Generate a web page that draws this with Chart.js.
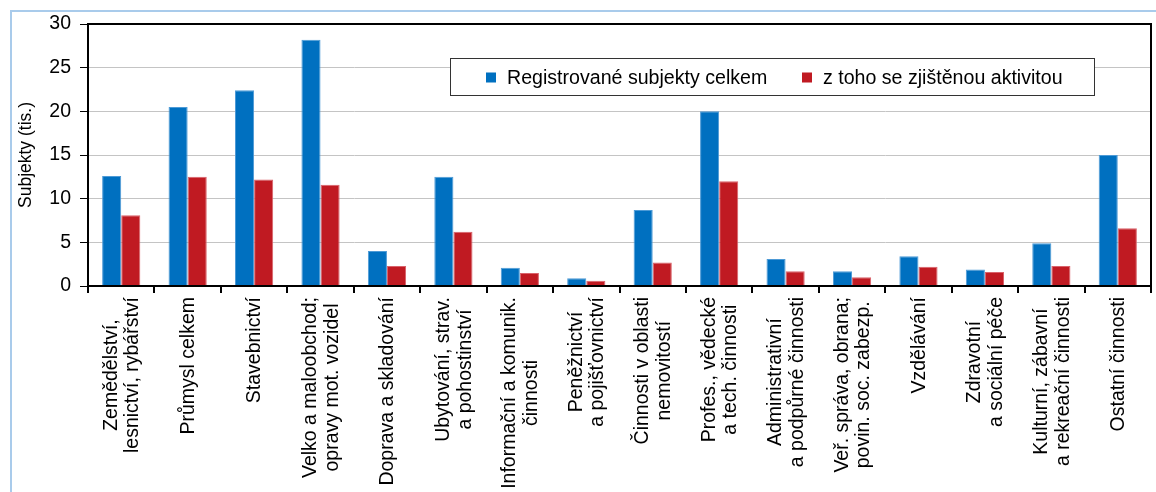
<!DOCTYPE html>
<html lang="cs">
<head>
<meta charset="utf-8">
<title>Registrované subjekty podle odvětví</title>
<script src="https://cdn.jsdelivr.net/npm/chart.js@4/dist/chart.umd.min.js"></script>
<style>
  html, body { margin: 0; padding: 0; background: #fff; }
  #wrap { position: relative; width: 1156px; height: 492px; overflow: hidden; }
  #frame { position: absolute; left: 10px; top: 10px; width: 1200px; height: 600px;
           border-left: 2px solid #a9cbeb; border-top: 2px solid #a9cbeb; pointer-events: none; }
  canvas { position: absolute; left: 0; top: 0; }
</style>
</head>
<body>
<div id="wrap">
  <canvas id="chart" width="1156" height="492"></canvas>
  <div id="frame"></div>
</div>
<script>
// Odvětví (kategorie na ose x), víceřádkové popisky
const categories = [
  ["Zemědělství,", "lesnictví, rybářství"],
  ["Průmysl celkem"],
  ["Stavebnictví"],
  ["Velko a maloobchod;", "opravy mot. vozidel"],
  ["Doprava a skladování"],
  ["Ubytování, strav.", "a pohostinství"],
  ["Informační a komunik.", "činnosti"],
  ["Peněžnictví", "a pojišťovnictví"],
  ["Činnosti v oblasti", "nemovitostí"],
  ["Profes., vědecké", "a tech. činnosti"],
  ["Administrativní", "a podpůrné činnosti"],
  ["Veř. správa, obrana;", "povin. soc. zabezp."],
  ["Vzdělávání"],
  ["Zdravotní", "a sociální péče"],
  ["Kulturní, zábavní", "a rekreační činnosti"],
  ["Ostatní činnosti"]
];

// Počty subjektů v tisících
const registered = [12.6, 20.5, 22.4, 28.2, 4.0, 12.5, 2.1, 0.9, 8.7, 20.0, 3.1, 1.7, 3.4, 1.9, 4.9, 15.0];
const active     = [8.1, 12.5, 12.2, 11.6, 2.3, 6.2, 1.5, 0.6, 2.7, 12.0, 1.7, 1.0, 2.2, 1.6, 2.3, 6.6];

const seriesNames = ["Registrované subjekty celkem", "z toho se zjištěnou aktivitou"];
const yTicks = [0, 5, 10, 15, 20, 25, 30];
const yTitle = "Subjekty (tis.)";

const FONT = "'Liberation Sans', Arial, sans-serif";
const BLUE = "#0070c0";
const RED = "#c01a22";

// Rámeček kolem plochy grafu
const plotFrame = {
  id: 'plotFrame',
  afterDatasetsDraw(chart) {
    const { ctx, chartArea: a } = chart;
    ctx.save();
    ctx.strokeStyle = '#000';
    ctx.lineWidth = 2;
    ctx.strokeRect(a.left, a.top, a.right - a.left, a.bottom - a.top);
    ctx.restore();
  }
};

// Svislé popisky kategorií, řádky zarovnané na střed
const categoryLabels = {
  id: 'categoryLabels',
  afterDraw(chart) {
    const { ctx } = chart;
    const xs = chart.scales.x;
    const top = chart.chartArea.bottom + 11;
    const lh = 21.6;
    ctx.save();
    ctx.font = `19.5px ${FONT}`;
    ctx.fillStyle = '#000';
    ctx.textAlign = 'center';
    ctx.textBaseline = 'middle';
    categories.forEach((lines, i) => {
      const x = xs.getPixelForValue(i);
      const w = Math.max(...lines.map(l => ctx.measureText(l).width));
      ctx.save();
      ctx.translate(x + 1, top);
      ctx.rotate(-Math.PI / 2);
      lines.forEach((line, j) => {
        ctx.fillText(line, -w / 2, (j - (lines.length - 1) / 2) * lh);
      });
      ctx.restore();
    });
    ctx.restore();
  }
};

// Legenda v rámečku uvnitř plochy grafu
const boxedLegend = {
  id: 'boxedLegend',
  afterDraw(chart) {
    const { ctx } = chart;
    const bx = 450.5, by = 58.5, bw = 644, bh = 37;
    ctx.save();
    ctx.fillStyle = '#fff';
    ctx.fillRect(bx, by, bw, bh);
    ctx.strokeStyle = '#333';
    ctx.lineWidth = 1;
    ctx.strokeRect(bx, by, bw, bh);
    ctx.font = `19.6px ${FONT}`;
    ctx.textBaseline = 'middle';
    ctx.textAlign = 'left';
    const cy = by + bh / 2 + 0.5;
    const starts = [486, 802];
    chart.data.datasets.forEach((ds, i) => {
      const sx = starts[i];
      ctx.fillStyle = ds.backgroundColor;
      ctx.fillRect(sx, cy - 5, 10, 10);
      ctx.fillStyle = '#000';
      ctx.fillText(ds.label, sx + 21, cy + 1);
    });
    ctx.restore();
  }
};

new Chart(document.getElementById('chart'), {
  type: 'bar',
  data: {
    labels: categories,
    datasets: [
      { label: seriesNames[0], data: registered, backgroundColor: BLUE,
        borderColor: '#4d9ad6', borderWidth: 1 },
      { label: seriesNames[1], data: active, backgroundColor: RED,
        borderColor: '#d9626a', borderWidth: 1 }
    ]
  },
  options: {
    responsive: false,
    animation: false,
    events: [],
    layout: { padding: { top: 24, right: 5, left: 0, bottom: 0 } },
    datasets: { bar: { categoryPercentage: 0.575, barPercentage: 1.0 } },
    plugins: { legend: { display: false }, tooltip: { enabled: false } },
    scales: {
      x: {
        offset: true,
        grid: { display: true, offset: true, drawOnChartArea: false, drawTicks: true,
                tickLength: 7, tickColor: '#000', lineWidth: 2 },
        border: { display: true, color: '#000', width: 2 },
        ticks: { display: false },
        afterFit(scale) { scale.height = 206; }
      },
      y: {
        min: 0,
        max: 30,
        afterBuildTicks(scale) { scale.ticks = yTicks.map(v => ({ value: v })); },
        grid: { color: '#c4c4c4', lineWidth: 1, drawTicks: true, tickLength: 8, tickColor: '#000' },
        border: { display: true, color: '#000', width: 2 },
        ticks: { color: '#000', padding: 9, font: { family: FONT, size: 19.5 } },
        title: { display: true, text: yTitle, color: '#000',
                 font: { family: FONT, size: 17.5 }, padding: { top: 16, bottom: 0 } },
        afterFit(scale) { scale.width = 88; }
      }
    }
  },
  plugins: [plotFrame, categoryLabels, boxedLegend]
});
</script>
</body>
</html>
